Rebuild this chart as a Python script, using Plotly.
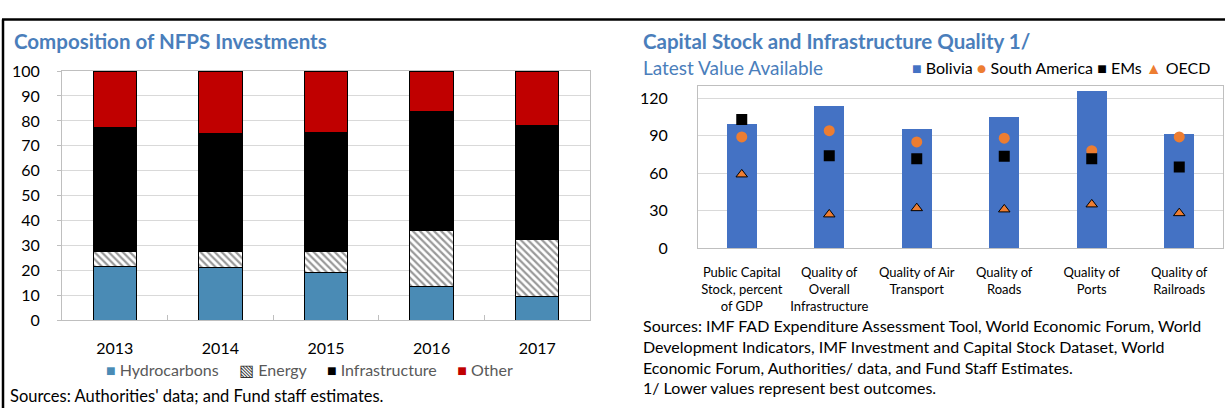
import plotly.graph_objects as go

# ---------------- data ----------------
years = ["2013", "2014", "2015", "2016", "2017"]
hydrocarbons = [21.5, 21.0, 19.3, 13.6, 9.6]
energy = [6.0, 6.5, 8.2, 22.6, 22.7]
infrastructure = [49.8, 47.6, 48.0, 47.4, 45.9]
other = [22.7, 24.9, 24.5, 16.4, 21.8]

indicators = [
    "Public Capital<br>Stock, percent<br>of GDP",
    "Quality of<br>Overall<br>Infrastructure",
    "Quality of Air<br>Transport",
    "Quality of<br>Roads",
    "Quality of<br>Ports",
    "Quality of<br>Railroads",
]
bolivia = [99.5, 113.5, 95.5, 105.0, 126.0, 91.0]
south_america = [89, 94, 85, 88, 78, 89]
ems = [103, 74, 71.5, 73.5, 71.5, 65]
oecd = [59, 27, 32, 31, 35, 28]

# ---------------- helpers ----------------
W, H = 1225, 417
FONT = "Lato"
BLUE_T = "#4A7EBB"
RX = 641  # left edge of right-panel texts


def X(px):
    return px / W


def Y(py):
    return 1 - py / H


fig = go.Figure()

# ---------------- left chart ----------------
common = dict(x=years, xaxis="x", yaxis="y", width=0.41, showlegend=False)
fig.add_trace(go.Bar(y=hydrocarbons, name="Hydrocarbons",
                     marker=dict(color="#4A8BB5", line=dict(color="#000000", width=1)), **common))
fig.add_trace(go.Bar(y=energy, name="Energy",
                     marker=dict(color="#FFFFFF", line=dict(color="#000000", width=1),
                                 pattern=dict(shape="\\", fgcolor="#333333", bgcolor="#FFFFFF",
                                              size=5, solidity=0.45)), **common))
fig.add_trace(go.Bar(y=infrastructure, name="Infrastructure",
                     marker=dict(color="#000000", line=dict(color="#000000", width=1)), **common))
fig.add_trace(go.Bar(y=other, name="Other",
                     marker=dict(color="#C00000", line=dict(color="#000000", width=1)), **common))

# ---------------- right chart ----------------
fig.add_trace(go.Bar(x=indicators, y=bolivia, name="Bolivia", xaxis="x2", yaxis="y2",
                     width=0.34, marker=dict(color="#4472C4", line=dict(width=0)),
                     showlegend=False))
fig.add_trace(go.Scatter(x=indicators, y=south_america, name="South America", mode="markers",
                         xaxis="x2", yaxis="y2", showlegend=False,
                         marker=dict(symbol="circle", size=11, color="#ED7D31")))
fig.add_trace(go.Scatter(x=indicators, y=ems, name="EMs", mode="markers",
                         xaxis="x2", yaxis="y2", showlegend=False,
                         marker=dict(symbol="square", size=11, color="#000000")))
fig.add_trace(go.Scatter(x=indicators, y=oecd, name="OECD", mode="markers",
                         xaxis="x2", yaxis="y2", showlegend=False,
                         marker=dict(symbol="triangle-up", size=10, color="#ED7D31",
                                     line=dict(color="#000000", width=1))))

fig.update_layout(
    width=W, height=H, autosize=False,
    margin=dict(l=0, r=0, t=0, b=0),
    paper_bgcolor="white", plot_bgcolor="white",
    barmode="stack",
    font=dict(family=FONT, color="#000000", size=16),
    xaxis=dict(domain=[X(62), X(590)], type="category", showgrid=False,
               showline=True, linecolor="#BFBFBF", mirror=True,
               ticks="inside", tickson="boundaries", ticklen=5, tickcolor="#BFBFBF",
               tickfont=dict(size=16), ticklabelstandoff=14, fixedrange=True),
    yaxis=dict(domain=[Y(325), Y(64)], range=[0, 100], dtick=10,
               gridcolor="#D9D9D9", showline=True, linecolor="#BFBFBF", mirror=True,
               ticks="outside", ticklen=4, tickcolor="#BFBFBF", zeroline=False,
               ticklabelstandoff=14, tickfont=dict(size=16)),
    xaxis2=dict(domain=[X(698), X(1223)], type="category", showgrid=False,
                showline=True, linecolor="#BFBFBF", mirror=True, ticks="",
                tickfont=dict(size=13), ticklabelstandoff=12, anchor="y2"),
    yaxis2=dict(domain=[Y(249.5), Y(79.3)], range=[0, 130],
                tickvals=[0, 30, 60, 90, 120], gridcolor="#D9D9D9",
                showline=True, linecolor="#BFBFBF", mirror=True, zeroline=False,
                ticks="", ticklabelstandoff=26, tickfont=dict(size=16), anchor="x2"),
)

# frame lines
fig.add_shape(type="line", xref="paper", yref="paper", x0=X(2), x1=1, y0=Y(10), y1=Y(10),
              line=dict(color="black", width=2.5))
fig.add_shape(type="line", xref="paper", yref="paper", x0=X(3), x1=X(3), y0=Y(10), y1=0,
              line=dict(color="black", width=2.5))

# titles and notes
ann = []
ann.append(dict(text="<b>Composition of NFPS Investments</b>", x=X(12), y=Y(33),
                font=dict(size=20.5, color=BLUE_T)))
ann.append(dict(text="<b>Capital Stock and Infrastructure Quality 1/</b>", x=X(RX), y=Y(33),
                font=dict(size=20.5, color=BLUE_T)))
ann.append(dict(text="Latest Value Available", x=X(RX), y=Y(60),
                font=dict(size=19, color=BLUE_T)))
ann.append(dict(text="Sources: Authorities' data; and Fund staff estimates.", x=X(8), y=Y(404),
                font=dict(size=16.5)))
ann.append(dict(text=("Sources: IMF FAD Expenditure Assessment Tool, World Economic Forum, World<br>"
                      "Development Indicators, IMF Investment and Capital Stock Dataset, World<br>"
                      "Economic Forum, Authorities/ data, and Fund Staff Estimates.<br>"
                      "1/ Lower values represent best outcomes."),
                x=X(RX), y=Y(363), align="left", font=dict(size=16)))
# legends
gap = "&nbsp;" * 4 + " "
ann.append(dict(text=('<span style="color:#4A8BB5">■</span> Hydrocarbons' + gap +
                      '<span style="color:#333333">▧</span> Energy' + gap +
                      '<span style="color:#000000">■</span> Infrastructure' + gap +
                      '<span style="color:#C00000">■</span> Other'),
                x=X(104), y=Y(377), font=dict(size=16, color="#595959")))
ann.append(dict(text=('<span style="color:#4472C4">■</span> Bolivia '
                      '<span style="color:#ED7D31">●</span> South America '
                      '<span style="color:#000000">■</span> EMs '
                      '<span style="color:#ED7D31">▲</span> OECD'),
                x=X(910), y=Y(60), font=dict(size=16, color="#000000")))
for a in ann:
    a.update(xref="paper", yref="paper", xanchor="left", yanchor="middle", showarrow=False)
    fig.add_annotation(**a)

fig.write_html("out.html", config={"displayModeBar": False},
               post_script="document.body.style.margin='0';document.body.style.overflow='hidden';")
